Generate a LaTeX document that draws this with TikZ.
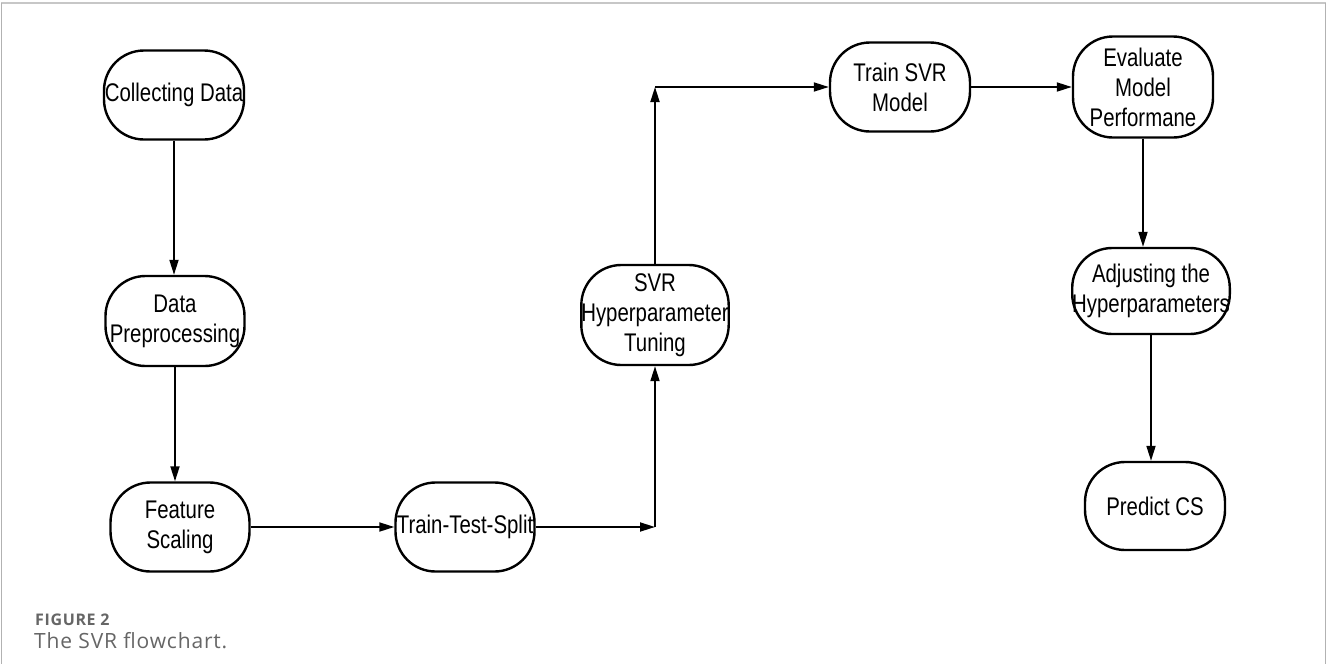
\documentclass[tikz,border=0pt]{standalone}
\usepackage{fontspec}
\setmainfont[FakeStretch=0.8]{Liberation Sans}
\newfontfamily\capfont[LetterSpace=4]{Open Sans}
\usetikzlibrary{arrows.meta,calc}
\tikzset{
  stepbox/.style={draw=black, line width=2.4pt, rounded corners=40pt, inner sep=0pt,
    align=center, font=\fontsize{25.5}{30}\selectfont},
  arr/.style={draw=black, line width=1.8pt, -{Triangle[length=15pt,width=9pt]}},
  ln/.style={draw=black, line width=1.8pt}
}
\begin{document}
\begin{tikzpicture}[x=1pt,y=-1pt]
\useasboundingbox (0,0) rectangle (1327,664);
\fill[white] (0,0) rectangle (1327,664);
% frame
\draw[color=black!22, line width=2pt] (1,3) -- (1326,3);
\draw[color=black!30, line width=1pt] (1,3) -- (1,664);
\draw[color=black!30, line width=1pt] (1325,3) -- (1325,664);
% nodes
\node[stepbox, minimum width=140pt, minimum height=89pt] (cd) at (174,95) {Collecting Data};
\node[stepbox, minimum width=139pt, minimum height=90pt] (dp) at (175,321) {Data\\Preprocessing};
\node[stepbox, minimum width=139pt, minimum height=89pt] (fs) at (180,527) {Feature\\Scaling};
\node[stepbox, minimum width=139pt, minimum height=89pt] (tts) at (465,527) {Train-Test-Split};
\node[stepbox, minimum width=139pt, minimum height=100pt] (svr) at (655,315) {SVR\\Hyperparameter\\Tuning};
\node[stepbox, minimum width=140pt, minimum height=89pt] (tsm) at (900,87) {Train SVR\\Model};
\node[stepbox, minimum width=140pt, minimum height=101pt] (emp) at (1143,87) {Evaluate\\Model\\Performane};
\node[stepbox, minimum width=148pt, minimum height=86pt] (adj) at (1151,291) {Adjusting the\\Hyperparameters};
\node[stepbox, minimum width=140pt, minimum height=88pt] (pcs) at (1155,506) {Predict CS};
\coordinate (c1) at (655,527);
\coordinate (c2) at (655,87);
% connectors
\draw[arr] (cd.south) -- (cd.south |- dp.north);
\draw[arr] (dp.south) -- (dp.south |- fs.north);
\draw[arr] (fs.east) -- (tts.west);
\draw[arr] (tts.east) -- (c1);
\draw[arr] (c1) -- (svr.south);
\draw[arr] (svr.north) -- (c2);
\draw[arr] (c2) -- (tsm.west);
\draw[arr] (tsm.east) -- (emp.west);
\draw[arr] (emp.south) -- (emp.south |- adj.north);
\draw[arr] (adj.south) -- (adj.south |- pcs.north);
% caption
\node[anchor=west, inner sep=0pt, text=black!60, font=\capfont\bfseries\fontsize{16}{19}\selectfont] (fig) at (35,620) {FIGURE 2};
\node[anchor=west, inner sep=0pt, text=black!60, font=\capfont\fontsize{21}{25}\selectfont] (cap) at (34,641) {The SVR flowchart.};
\end{tikzpicture}
\end{document}
